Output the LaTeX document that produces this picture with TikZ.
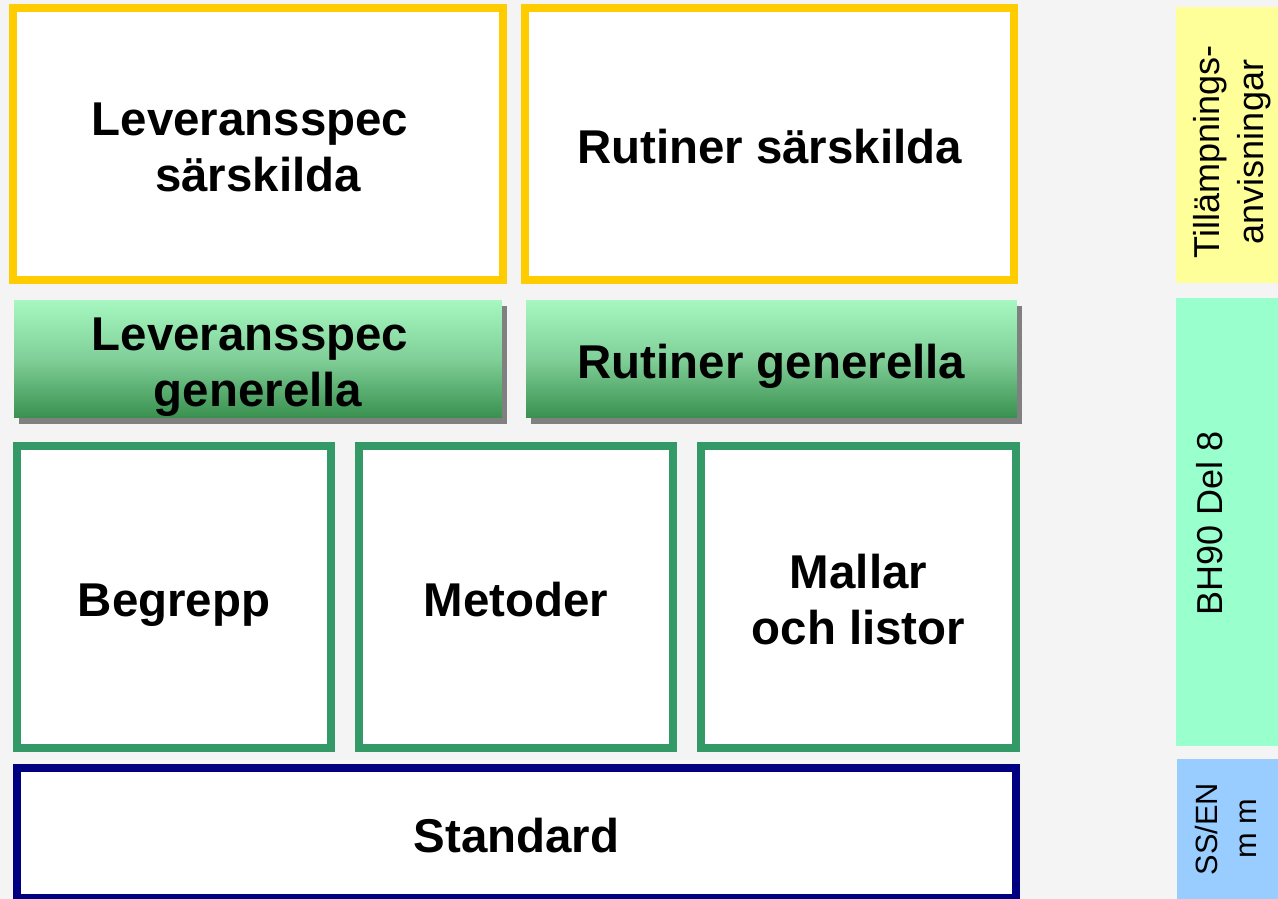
\documentclass[tikz,border=0pt]{standalone}
\usepackage{xcolor}
\usepackage{fontspec}
\setmainfont{Liberation Sans}
\usepackage{tikz}
\usetikzlibrary{shadows}

\definecolor{bakgrund}{HTML}{F4F4F4}
\definecolor{gul}{HTML}{FFCC00}
\definecolor{gronkant}{HTML}{339966}
\definecolor{marin}{HTML}{000080}
\definecolor{ljusgron}{HTML}{A6F7C1}
\definecolor{mellangron}{HTML}{80CF98}
\definecolor{morkgron}{HTML}{38904E}
\definecolor{skugga}{HTML}{808080}
\definecolor{sidagul}{HTML}{FFFF99}
\definecolor{sidagron}{HTML}{99FFCC}
\definecolor{sidabla}{HTML}{99CCFF}

\newcommand{\efter}{\hspace*{0.32cm}}

\begin{document}
\begin{tikzpicture}[x=0.02cm,y=-0.02cm,
							every node/.style={rectangle,inner sep=0pt,align=center,
								font=\fontsize{27}{32.3}\selectfont\bfseries},
							enrad/.style={text height=28.1pt,text depth=5.4pt},
							tvarad/.style={text height=60pt,text depth=5.4pt},
							gulbox/.style={draw=gul,line width=0.16cm,fill=white,minimum height=5.44cm},
							genbox/.style={top color=ljusgron,bottom color=morkgron,middle color=mellangron,
								minimum height=2.36cm,
								drop shadow={shadow xshift=0.1cm,shadow yshift=-0.12cm,fill=skugga,opacity=1}},
							delbox/.style={draw=gronkant,line width=0.16cm,fill=white,minimum height=6.04cm},
							%stdbox/.style={draw=marin},
							sida/.style={font=\fontsize{20.5}{25}\selectfont,rotate=90}]
			\fill[bakgrund] (0,0) rectangle (1278,899);
			\useasboundingbox (0,0) rectangle (1278,899);
			\node[gulbox, tvarad, minimum width=9.8cm] (levsar) at (258,144) {Leveransspec\efter\\särskilda};
			\node[gulbox, enrad, minimum width=9.78cm] (rutsar) at (769.5,144) {Rutiner särskilda};
			\node[genbox, tvarad, minimum width=9.76cm] (levgen) at (258,359) {Leveransspec\efter\\generella};
			\node[genbox, enrad, minimum width=9.82cm] (rutgen) at (771.5,359) {Rutiner generella};
			\node[delbox, enrad, minimum width=6.28cm] (begrepp) at (174,597) {Begrepp};
			\node[delbox, enrad, minimum width=6.28cm] (metoder) at (516,597) {Metoder};
			\node[delbox, tvarad, minimum width=6.3cm] (mallar) at (858.5,597) {Mallar\\och listor};
			\node[draw=marin, enrad, line width=0.16cm, fill=white, minimum width=19.98cm, minimum height=2.6cm]
				(standard) at (516.5,833) {Standard};
			% sidorna
			\fill[sidagul] (1176,7) rectangle (1290,283);
			\fill[sidagron] (1176,298) rectangle (1290,746);
			\fill[sidabla] (1177,759) rectangle (1290,905);
			\node[sida] (tillamp) at (1232,152) {Tillämpnings-\\anvisningar};
			\node[sida] (bh) at (1210,523) {BH90 Del 8};
			\node[sida, font=\fontsize{17.5}{22}\selectfont] (ss) at (1226,829) {SS/EN\\m m};
		\end{tikzpicture}
\end{document}
